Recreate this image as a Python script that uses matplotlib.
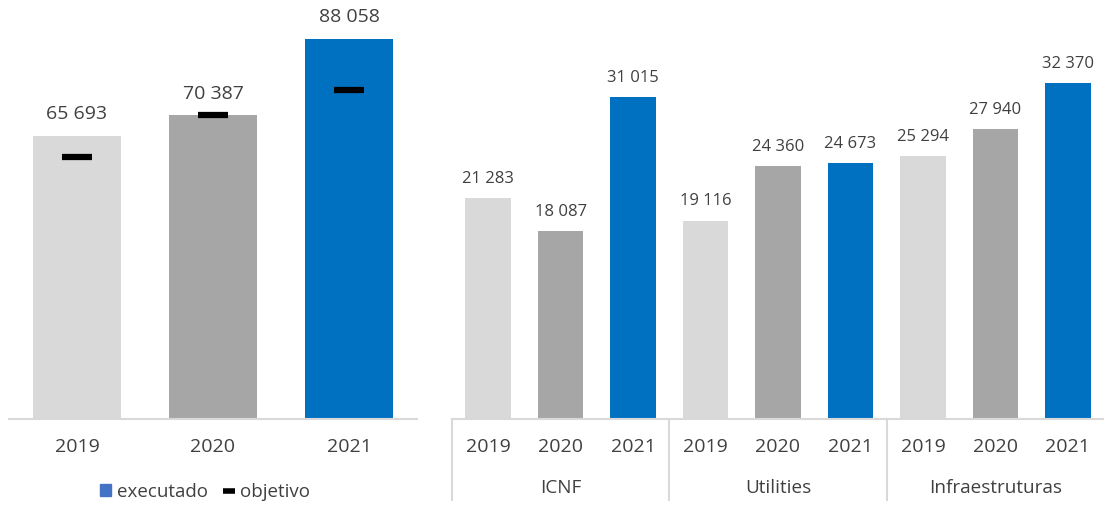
import matplotlib.pyplot as plt
from matplotlib.patches import Patch
from matplotlib.lines import Line2D
from matplotlib.transforms import blended_transform_factory

# Left panel: total executado vs objetivo
years = ["2019", "2020", "2021"]
executado = [65693, 70387, 88058]
objetivo = [60700, 70400, 76200]

# Right panel: by segment
segments = ["ICNF", "Utilities", "Infraestruturas"]
seg_values = [
    [21283, 18087, 31015],
    [19116, 24360, 24673],
    [25294, 27940, 32370],
]

year_colors = ["#D9D9D9", "#A6A6A6", "#0070C0"]
text_color = "#404040"
axis_color = "#D9D9D9"

plt.rcParams['font.family'] = ['Open Sans', 'DejaVu Sans']

W, H = 1104, 505
fig = plt.figure(figsize=(W / 100, H / 100), dpi=100)


def px_axes(left, top, right, bottom):
    return fig.add_axes([left / W, 1 - bottom / H, (right - left) / W, (bottom - top) / H])


def fmt(v):
    return f"{v:,}".replace(",", " ")


# ---- left panel ----
ax1 = px_axes(9, 10, 417, 419)
xs = range(len(years))
ax1.bar(xs, executado, width=0.65, color=year_colors, zorder=2)
ax1.plot(xs, objetivo, ls="none", marker="_", ms=22, mew=4.5, color="black", zorder=3)
ax1.set_xlim(-0.5, 2.5)
ax1.set_ylim(0, 88058 * 409 / 380)
for x, v in zip(xs, executado):
    ax1.annotate(fmt(v), (x, v), xytext=(0, 9), textcoords="offset points",
                 ha="center", va="bottom", fontsize=14, color=text_color)
ax1.set_xticks(list(xs), years)
ax1.tick_params(axis="x", length=0, pad=14, labelsize=14, labelcolor=text_color)
ax1.set_yticks([])
for s in ["top", "right", "left"]:
    ax1.spines[s].set_visible(False)
ax1.spines["bottom"].set_color(axis_color)
ax1.spines["bottom"].set_linewidth(1.5)

handles = [Patch(color="#4472C4"),
           Line2D([], [], ls="none", marker="_", ms=8, mew=4, color="black")]
fig.legend(handles, ["executado", "objetivo"], loc="center",
           bbox_to_anchor=(205 / W, 13 / H), ncol=2, frameon=False,
           fontsize=13.5, labelcolor=text_color, handlelength=0.6,
           handleheight=0.6, handletextpad=0.3, columnspacing=0.8)

# ---- right panel ----
ax2 = px_axes(452, 10, 1104, 419)
labels = []
vals = []
cols = []
for seg in seg_values:
    for i, v in enumerate(seg):
        labels.append(years[i])
        vals.append(v)
        cols.append(year_colors[i])
pos = list(range(len(vals)))
ax2.bar(pos, vals, width=0.63, color=cols, zorder=2)
ax2.set_xlim(-0.5, len(vals) - 0.5)
ax2.set_ylim(0, 32370 * 409 / 336)
for x, v in zip(pos, vals):
    ax2.annotate(fmt(v), (x, v), xytext=(0, 8), textcoords="offset points",
                 ha="center", va="bottom", fontsize=12, color=text_color)
ax2.set_xticks(pos, labels)
ax2.tick_params(axis="x", length=0, pad=14, labelsize=14, labelcolor=text_color)
ax2.set_yticks([])
for s in ["top", "right", "left"]:
    ax2.spines[s].set_visible(False)
ax2.spines["bottom"].set_color(axis_color)
ax2.spines["bottom"].set_linewidth(1.5)

tr = blended_transform_factory(ax2.transData, ax2.transAxes)
n = len(years)
for g, name in enumerate(segments):
    ax2.text(g * n + (n - 1) / 2, -0.169, name, transform=tr, ha="center",
             va="center", fontsize=13.6, color=text_color)
for g in range(len(segments)):
    xsep = g * n - 0.5
    ax2.plot([xsep, xsep], [0, -0.198], transform=tr, color=axis_color,
             lw=1.5, clip_on=False)

fig.savefig("out.png", dpi=100)
